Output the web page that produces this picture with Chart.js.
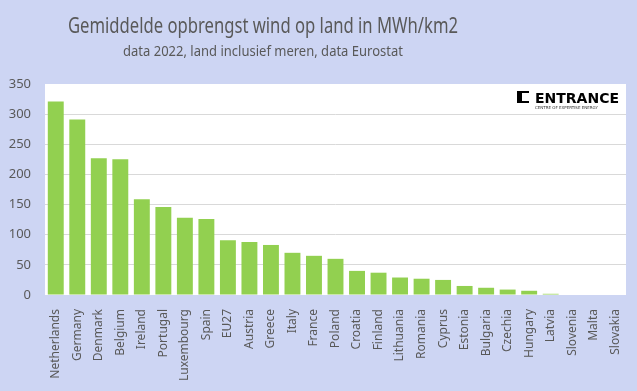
<!DOCTYPE html>
<html>
<head>
<meta charset="utf-8">
<script src="https://cdn.jsdelivr.net/npm/chart.js@4"></script>
<style>
  html, body { margin: 0; padding: 0; background: #CDD5F3; }
  #wrap { width: 637px; height: 391px; }
</style>
</head>
<body>
<div id="wrap"><canvas id="chart"></canvas></div>
<script>
const countries = ['Netherlands', 'Germany', 'Denmark', 'Belgium', 'Ireland', 'Portugal', 'Luxembourg', 'Spain', 'EU27', 'Austria', 'Greece', 'Italy', 'France', 'Poland', 'Croatia', 'Finland', 'Lithuania', 'Romania', 'Cyprus', 'Estonia', 'Bulgaria', 'Czechia', 'Hungary', 'Latvia', 'Slovenia', 'Malta', 'Slovakia']
const yieldMWh = [321, 291, 227, 225, 159, 146, 128, 126, 91, 88, 83, 70, 65, 60, 40, 37, 29, 27, 25, 15, 12, 9, 7, 2, 0, 0, 0]
const titleText = 'Gemiddelde opbrengst wind op land in MWh/km2'
const subtitleText = 'data 2022, land inclusief meren, data Eurostat'

const textColor = '#595959'
const font = "'Noto Sans', sans-serif"

// white plot area, titles and logo
const decor = {
  id: 'decor',
  beforeDraw(chart) {
    let c = chart.ctx
    let a = chart.chartArea
    c.save()
    c.fillStyle = '#ffffff'
    c.fillRect(a.left, a.top, a.right - a.left, a.bottom - a.top)
    c.restore()
  },
  afterDraw(chart) {
    let c = chart.ctx
    let a = chart.chartArea
    c.save()
    c.fillStyle = textColor
    c.textAlign = 'center'
    c.textBaseline = 'middle'
    c.font = '21px ' + font
    c.fillText(titleText, 263, 27, 390)
    c.font = '15px ' + font
    c.fillText(subtitleText, 263, 52, 280)

    // logo
    let lx = a.right - 109
    let ly = a.top + 7
    c.fillStyle = '#000000'
    c.fillRect(lx, ly, 5, 12)
    c.fillRect(lx, ly, 12, 2)
    c.fillRect(lx, ly + 10, 12, 2)
    c.textAlign = 'left'
    c.textBaseline = 'alphabetic'
    c.font = "bold 14px 'DejaVu Sans', sans-serif"
    c.fillText('ENTRANCE', lx + 18, ly + 12, 84)
    c.font = "4px 'DejaVu Sans', sans-serif"
    c.fillStyle = '#333333'
    c.fillText('CENTRE OF EXPERTISE ENERGY', lx + 18, ly + 18, 84)
    c.restore()
  }
}

let ctx = document.getElementById('chart').getContext('2d')
let chart = new Chart(ctx, {
  type: 'bar',
  data: {
    labels: countries,
    datasets: [
      {
        label: 'MWh/km2',
        data: yieldMWh,
        backgroundColor: '#92D050',
        barPercentage: 0.74,
        categoryPercentage: 1
      }
    ]
  },
  options: {
    responsive: true,
    maintainAspectRatio: false,
    animation: false,
    layout: { padding: { top: 84, right: 11, left: 0, bottom: 0 } },
    plugins: {
      legend: { display: false },
      tooltip: { enabled: false }
    },
    scales: {
      x: {
        grid: { display: false },
        border: { display: false },
        ticks: {
          color: textColor,
          font: { family: font, size: 12 },
          minRotation: 90,
          maxRotation: 90,
          autoSkip: false,
          padding: 6
        },
        afterFit(scale) { scale.height = 96 }
      },
      y: {
        min: 0,
        max: 350,
        border: { display: false },
        grid: {
          drawTicks: false,
          color: (c) => (c.tick.value === 350 || c.tick.value === 0 ? 'rgba(0,0,0,0)' : '#D9D9D9')
        },
        ticks: {
          stepSize: 50,
          color: textColor,
          font: { family: font, size: 13 },
          padding: 14
        },
        afterFit(scale) { scale.width = 45 }
      }
    }
  },
  plugins: [decor]
})
</script>
</body>
</html>
